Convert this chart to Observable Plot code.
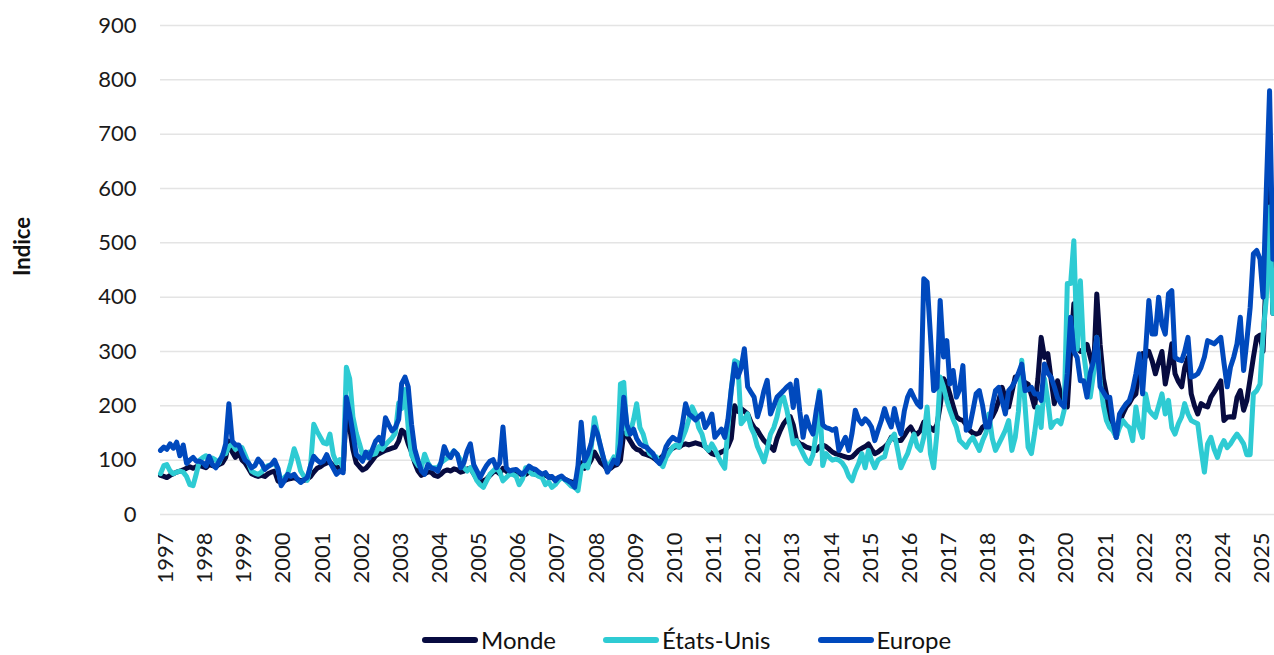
<!DOCTYPE html>
<html><head><meta charset="utf-8">
<script src="https://cdn.jsdelivr.net/npm/d3@7"></script>
<script src="https://cdn.jsdelivr.net/npm/@observablehq/plot@0.6"></script>
<style>
body{margin:0;background:#fff;font-family:Lato,"Noto Sans",sans-serif;}
#chart{position:relative;width:1274px;height:655px;overflow:hidden}
.legend{position:absolute;top:627px;left:422px;height:26px;line-height:26px;display:flex;align-items:center;font-size:24px;color:#111;white-space:nowrap}
.item{display:flex;align-items:center;margin-right:47px;flex:none}
.sw{display:block;flex:none;width:56px;height:6px;border-radius:3px;margin-right:3px}
</style></head><body><div id="chart"></div>
<script>
const startYear = 1997;
const seriesNames = ["Monde", "États-Unis", "Europe"];
const seriesColors = ["#070b40", "#2ecbd3", "#0049bd"];

const monde = [
 72,70,68,72,75,78,80,82,85,88,85,88,
 90,88,86,92,90,88,92,95,105,135,115,105,
 115,100,95,85,75,72,70,72,70,75,78,80,
 62,58,62,65,66,68,65,62,63,65,70,78,
 85,88,92,95,96,90,88,85,82,195,160,120,
 95,88,82,85,92,100,108,112,115,118,120,122,
 124,135,155,150,130,115,95,80,72,75,78,78,
 72,70,74,80,82,80,84,82,78,80,84,85,
 75,65,60,62,65,72,78,80,75,85,80,75,
 75,78,76,72,74,78,76,74,72,70,72,70,
 68,65,66,68,65,62,60,56,75,95,85,90,
 100,115,105,95,90,82,85,90,92,100,150,145,
 135,125,120,118,112,110,108,105,100,102,108,112,
 118,122,125,124,128,130,128,130,132,130,128,125,
 118,112,110,112,115,118,125,140,200,190,195,190,
 185,170,160,155,145,136,130,125,118,140,155,167,
 175,180,165,136,130,128,124,122,120,118,125,128,
 125,120,115,112,110,108,106,104,106,112,118,122,
 125,130,120,112,115,120,124,130,142,138,136,136,
 145,155,161,150,148,155,170,165,160,155,165,200,
 250,240,222,200,180,175,173,165,155,150,148,150,
 161,165,173,180,192,210,234,215,198,225,253,250,
 246,243,240,220,198,250,326,289,296,250,204,246,
 220,204,198,300,388,306,300,300,313,290,265,406,
 313,250,222,173,160,142,170,185,198,205,216,222,
 280,296,290,300,283,259,280,300,240,271,314,259,
 245,235,270,289,222,200,185,204,200,198,216,225,
 235,246,173,179,180,179,215,228,192,210,250,289,
 326,330,300,450,600,370
];

const etatsUnis = [
 75,90,92,80,75,78,80,78,70,55,53,75,
 100,105,108,98,104,100,95,110,112,125,130,120,
 125,123,110,95,80,76,74,78,86,90,92,94,
 85,58,68,74,95,121,104,80,70,63,90,166,
 153,142,132,130,148,110,95,101,85,271,250,180,
 150,130,110,105,115,110,112,125,120,128,135,141,
 150,205,195,230,160,110,99,90,86,111,95,86,
 86,86,95,100,104,110,117,110,100,86,80,86,
 75,62,55,50,62,74,80,86,78,62,68,74,
 74,70,55,65,86,80,74,74,70,68,55,60,
 50,55,62,68,64,58,52,50,44,85,92,86,
 120,178,150,120,100,90,95,106,100,240,243,148,
 150,175,204,160,148,125,112,108,106,95,88,105,
 115,124,128,124,140,155,175,198,185,160,148,125,
 118,130,120,106,95,85,160,230,283,280,167,175,
 185,160,148,125,112,97,120,148,160,180,210,216,
 192,160,130,136,125,112,100,94,110,150,228,90,
 112,105,100,102,100,95,86,70,62,80,94,112,
 86,118,100,86,100,104,106,130,140,148,118,86,
 100,112,130,148,125,118,142,198,112,86,150,253,
 235,210,192,175,161,136,130,124,135,142,130,118,
 136,150,185,140,118,130,142,155,173,118,142,190,
 284,200,124,112,150,198,160,250,210,160,170,173,
 167,192,425,425,504,304,430,296,250,216,260,326,
 246,200,173,160,154,142,160,173,165,160,136,198,
 160,142,222,192,185,179,200,222,185,210,160,148,
 167,180,204,185,173,170,167,120,78,130,142,120,
 105,125,136,123,130,140,148,140,130,110,110,222,
 228,240,330,400,566,370
];

const europe = [
 118,124,120,130,122,133,108,128,94,100,105,98,
 98,95,89,107,92,86,98,107,130,204,135,128,
 128,112,100,95,86,90,102,95,83,88,92,100,
 85,53,62,74,70,74,65,59,64,68,90,107,
 100,95,98,110,96,85,74,80,77,216,185,150,
 110,105,98,115,104,120,135,142,130,178,165,154,
 160,175,241,253,235,166,120,99,80,74,92,86,
 84,80,95,125,111,105,117,111,86,95,117,130,
 92,80,68,80,90,98,101,86,95,161,86,80,
 82,83,78,74,80,89,85,83,78,74,77,68,
 70,62,68,71,65,62,58,50,90,170,99,111,
 130,161,148,124,100,78,88,100,94,130,216,165,
 148,157,140,130,126,124,118,112,100,94,106,125,
 135,142,138,136,165,204,185,180,174,180,185,160,
 170,185,142,150,157,142,175,230,277,253,270,305,
 235,225,216,180,200,228,247,185,200,216,222,228,
 235,240,197,247,190,142,180,160,148,190,225,165,
 160,158,155,158,118,130,142,118,150,192,175,167,
 176,170,161,136,155,173,195,175,161,195,167,148,
 190,216,228,215,204,198,434,428,330,228,234,394,
 290,320,240,265,216,230,274,155,161,190,222,228,
 200,161,161,200,228,234,210,185,228,235,246,260,
 277,228,230,234,222,222,210,277,260,253,235,215,
 204,198,260,363,300,289,246,246,216,260,283,326,
 235,225,216,216,170,142,185,195,204,210,230,259,
 296,222,300,394,332,332,400,350,332,406,412,289,
 285,283,300,326,253,255,259,271,290,320,317,314,
 320,326,280,235,271,290,314,363,265,320,381,480,
 486,470,400,600,780,470
];

const yTicks = [0,100,200,300,400,500,600,700,800,900];
const yearLabels = [1997,1998,1999,2000,2001,2002,2003,2004,2005,2006,2007,2008,2009,2010,2011,2012,2013,2014,2015,2016,2017,2018,2019,2020,2021,2022,2023,2024,2025];
const axisTitle = "Indice";

const rows = [];
[monde, etatsUnis, europe].forEach((arr, s) => arr.forEach((v, i) =>
  rows.push({date: new Date(Date.UTC(startYear, i, 1)), value: v, serie: seriesNames[s]})));

const plot = Plot.plot({
  width: 1274, height: 590,
  marginLeft: 160, marginRight: 0, marginTop: 25, marginBottom: 76,
  style: {fontFamily: "Lato, 'Noto Sans', sans-serif", fontSize: "22px", color: "#1a1a1a", background: "white"},
  x: {type: "utc", domain: [new Date(Date.UTC(1997,0,1)), new Date(Date.UTC(2025,5,16))]},
  y: {domain: [0, 900]},
  color: {domain: seriesNames, range: seriesColors},
  marks: [
    Plot.ruleY(yTicks, {stroke: "#e4e4e4", strokeWidth: 1.5}),
    Plot.axisY({ticks: yTicks, tickSize: 0, tickPadding: 24, label: null}),
    Plot.axisX({ticks: yearLabels.map(y => new Date(Date.UTC(y, 1, 21))), tickFormat: d => String(d.getUTCFullYear()), tickRotate: -90, tickSize: 0, tickPadding: 18, label: null}),
    Plot.lineY(rows, {x: "date", y: "value", z: "serie", stroke: "serie", strokeWidth: 5, strokeLinejoin: "round", strokeLinecap: "round"}),
    Plot.text([axisTitle], {frameAnchor: "left", dx: -138, dy: 6, rotate: -90, fontWeight: "bold", fontSize: 22, fill: "#111", text: d => d})
  ]
});

const chart = document.getElementById("chart");
chart.appendChild(plot);
const legend = document.createElement("div");
legend.className = "legend";
seriesNames.forEach((n, i) => {
  const it = document.createElement("div");
  it.className = "item";
  const sw = document.createElement("span");
  sw.className = "sw";
  sw.style.background = seriesColors[i];
  const tx = document.createElement("span");
  tx.textContent = n;
  it.appendChild(sw); it.appendChild(tx);
  legend.appendChild(it);
});
chart.appendChild(legend);
</script></body></html>
